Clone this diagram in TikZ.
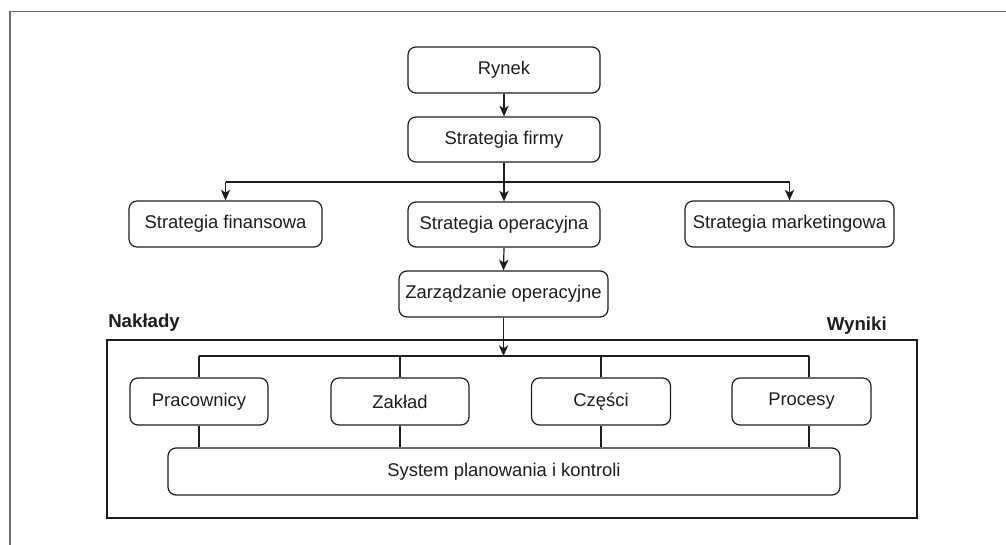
\documentclass[tikz,border=0pt]{standalone}
\usepackage{fontspec}
\setmainfont{Liberation Sans}
\usetikzlibrary{arrows.meta}
\definecolor{ink}{HTML}{1E1E1E}
\definecolor{framegray}{HTML}{6E6E6E}
\begin{document}
\begin{tikzpicture}[x=0.75pt,y=-0.75pt,
  box/.style={draw=ink,line width=0.9pt,rounded corners=6pt,align=center,
    inner sep=0pt,text=ink,font=\fontsize{13.8}{16}\selectfont},
  wire/.style={draw=ink,line width=0.9pt},
  arr/.style={wire,-{Stealth[length=8pt,width=7pt,inset=2.2pt]}},
  side/.style={text=ink,font=\fontsize{14}{16}\bfseries\selectfont,inner sep=0pt}]
\useasboundingbox (0,0) rectangle (1006,545);

% page frame: top and left edges only
\draw[framegray,line width=1.3pt] (1006,11.5) -- (10,11.5) -- (10,545);

% strategy levels
\node[box,minimum width=192*0.75pt,minimum height=46*0.75pt] (rynek) at (504,70) {Rynek};
\node[box,minimum width=192*0.75pt,minimum height=45*0.75pt] (firma) at (504,139.5) {Strategia firmy};
\node[box,minimum width=193*0.75pt,minimum height=46*0.75pt] (fin) at (225.5,224) {Strategia finansowa};
\node[box,minimum width=192*0.75pt,minimum height=45*0.75pt] (oper) at (504,224.5) {Strategia operacyjna};
\node[box,minimum width=209*0.75pt,minimum height=46*0.75pt] (mark) at (789.5,224) {Strategia marketingowa};
\node[box,minimum width=209*0.75pt,minimum height=46*0.75pt] (zarz) at (503.5,294) {Zarządzanie operacyjne};

\draw[arr] (rynek.south) -- (firma.north);
\coordinate (split) at (504,182);
\draw[wire] (firma.south) -- (split);
\draw[wire] (fin.north |- split) -- (mark.north |- split);
\draw[arr] (split) -- (oper.north);
\draw[arr] (fin.north |- split) -- (fin.north);
\draw[arr] (mark.north |- split) -- (mark.north);
\draw[arr] (oper.south) -- (zarz.north);

% operations system
\node[draw=ink,line width=0.9pt,minimum width=810*0.75pt,minimum height=178*0.75pt,inner sep=0pt] (sys) at (512,429) {};
\node[side,anchor=base west] (naklady) at (108,327) {Nakłady};
\node[side,anchor=base east] (wyniki) at (887,330) {Wyniki};

\node[box,minimum width=138*0.75pt,minimum height=47*0.75pt] (prac) at (199,401.5) {Pracownicy};
\node[box,minimum width=138*0.75pt,minimum height=47*0.75pt] (zaklad) at (400,401.5) {Zakład};
\node[box,minimum width=139*0.75pt,minimum height=47*0.75pt] (czesci) at (601,401.5) {Części};
\node[box,minimum width=139*0.75pt,minimum height=47*0.75pt] (proc) at (801.5,401.5) {Procesy};
\node[box,minimum width=672*0.75pt,minimum height=47*0.75pt] (plan) at (504,471.5) {System planowania i kontroli};

\coordinate (busL) at (199,356);
\coordinate (busR) at (809,356);
\draw[arr] (zarz.south) -- (zarz.south |- busL);
\draw[wire] (busL) -- (busR);
\draw[wire] (busL) -- (prac.north);
\draw[wire] (prac.south) -- (prac.south |- plan.north);
\draw[wire] (zaklad.north |- busL) -- (zaklad.north);
\draw[wire] (zaklad.south) -- (zaklad.south |- plan.north);
\draw[wire] (czesci.north |- busL) -- (czesci.north);
\draw[wire] (czesci.south) -- (czesci.south |- plan.north);
\draw[wire] (busR) -- (busR |- proc.north);
\draw[wire] (busR |- proc.south) -- (busR |- plan.north);
\end{tikzpicture}
\end{document}
